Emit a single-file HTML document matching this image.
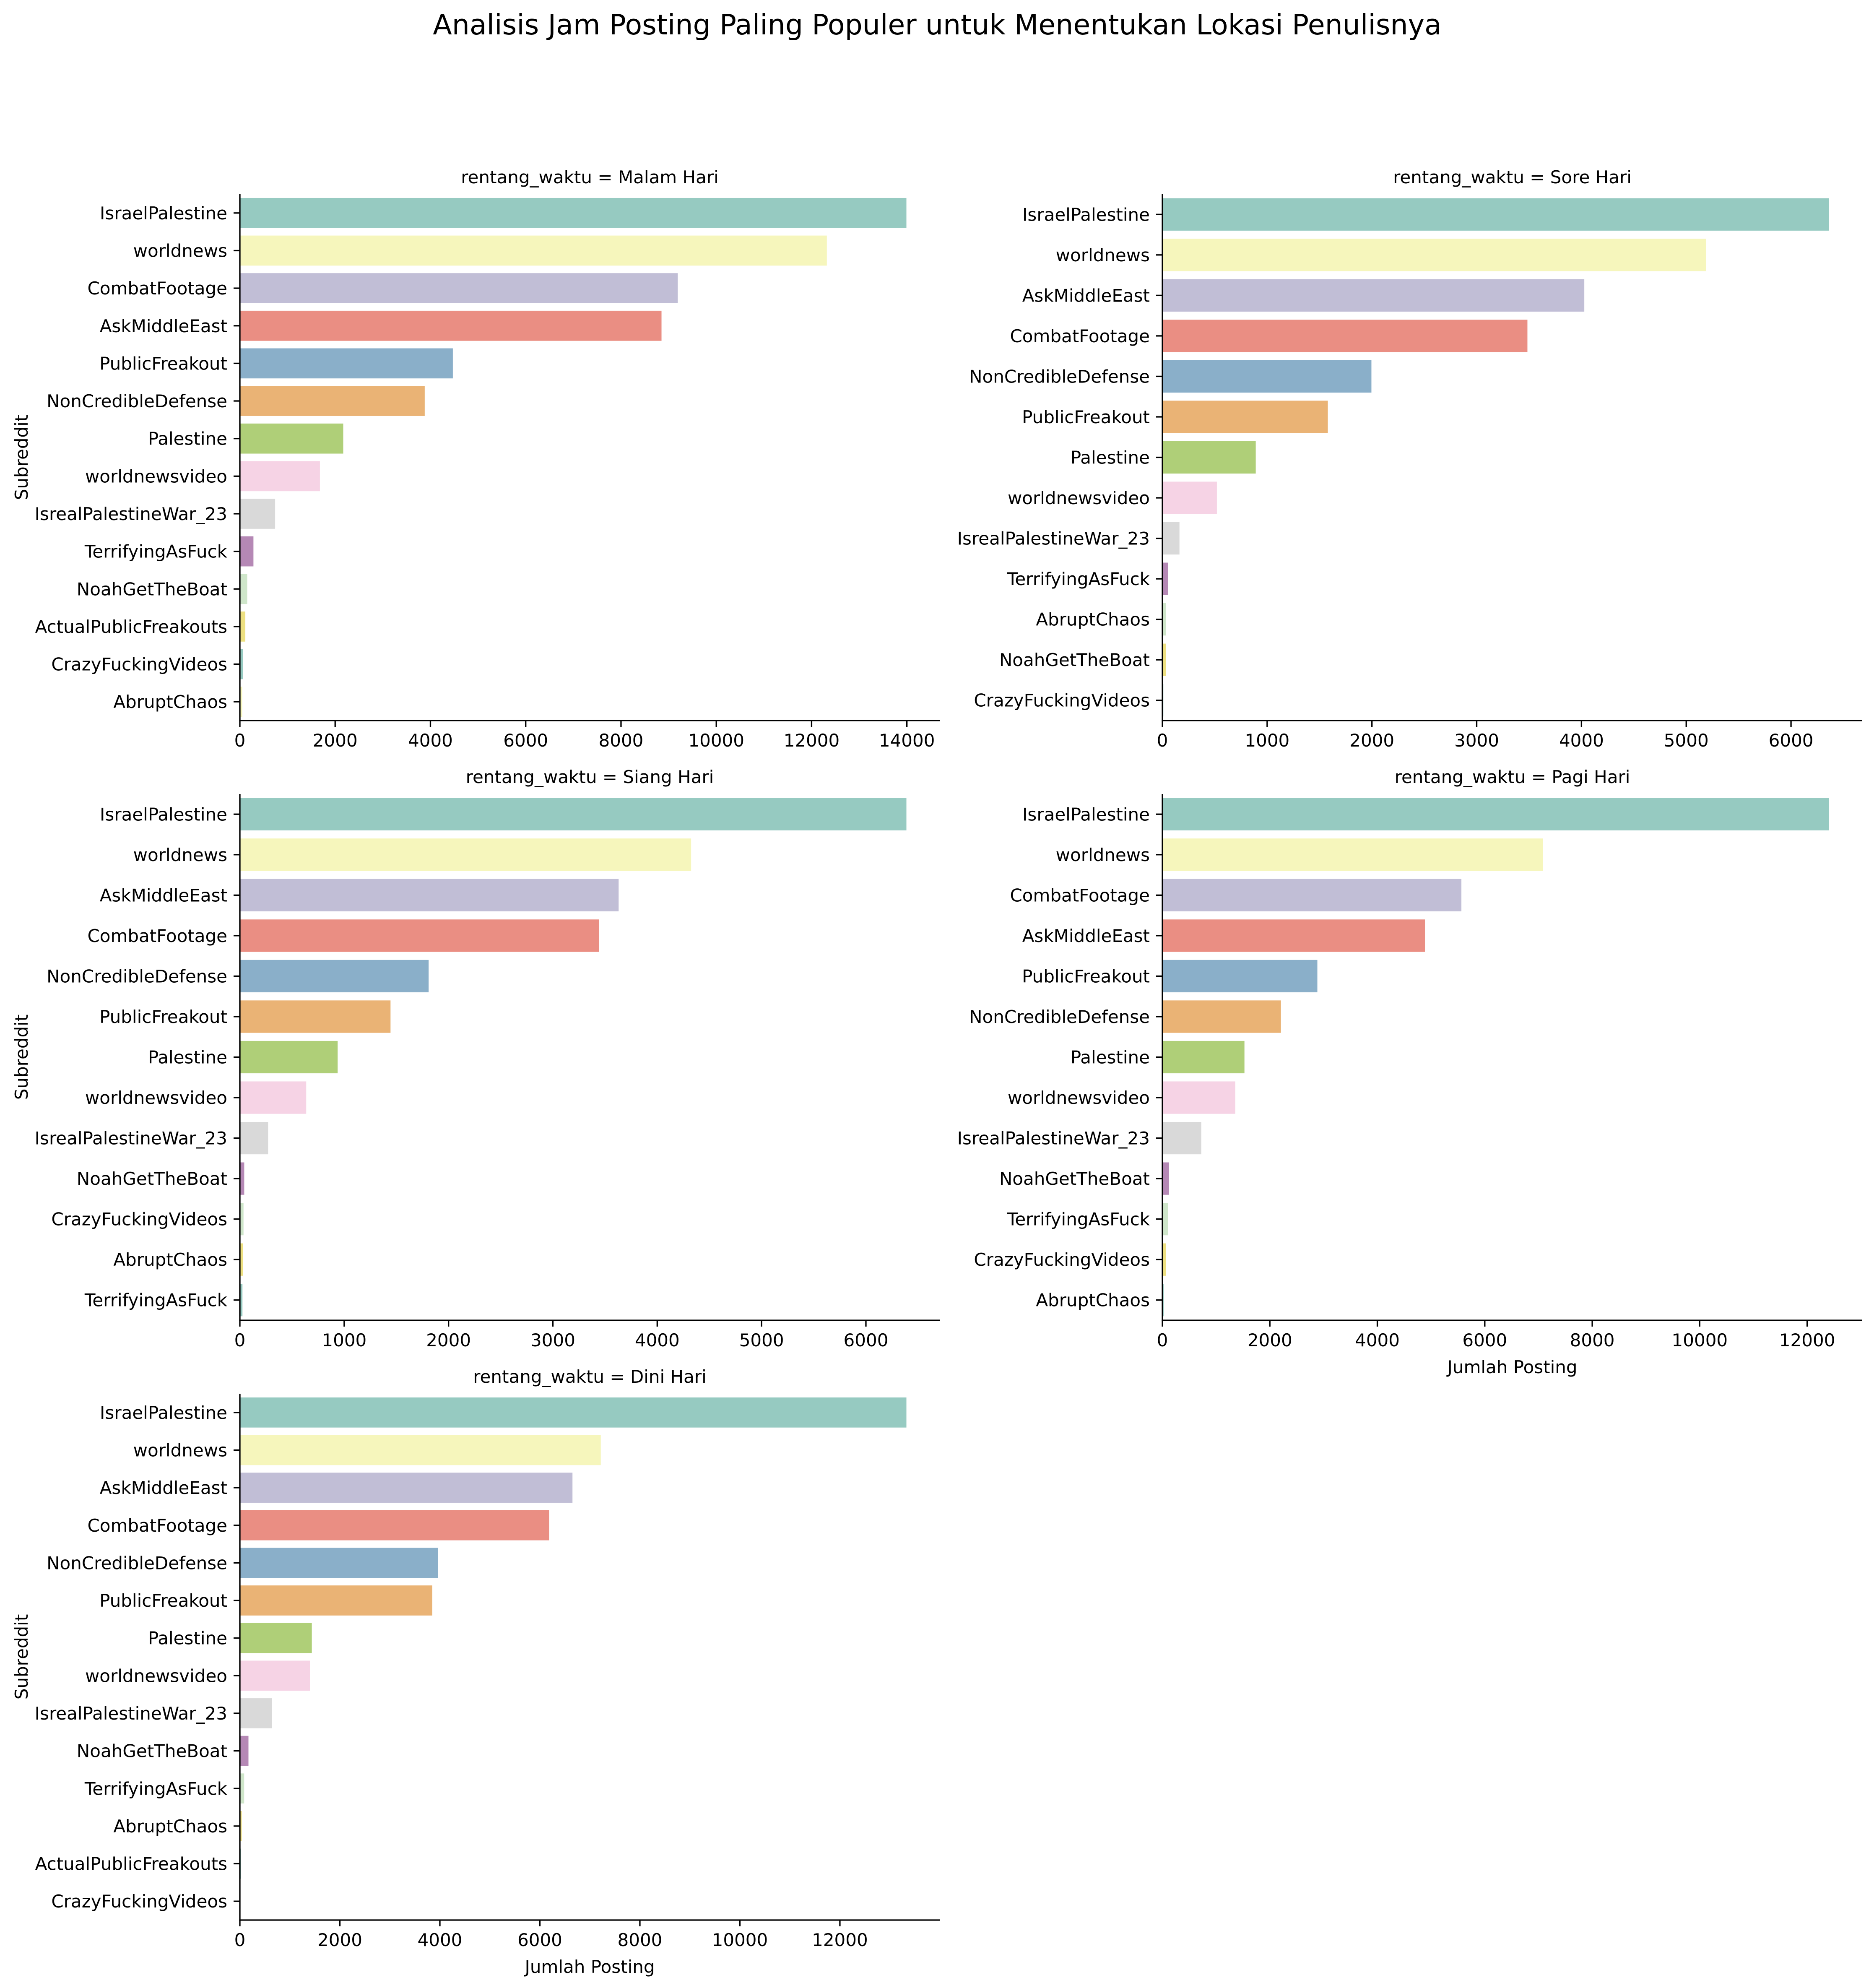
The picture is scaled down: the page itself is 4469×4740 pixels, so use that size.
<!DOCTYPE html>
<html><head><meta charset="utf-8"><style>html,body{margin:0;padding:0;background:#fff}svg{display:block}</style></head>
<body>
<svg id="fig" xmlns="http://www.w3.org/2000/svg" width="4469" height="4740" viewBox="0 0 4469 4740" font-family="'DejaVu Sans','Liberation Sans',sans-serif">
<rect width="4469" height="4740" fill="#fff"/>
<text x="2235" y="82" font-size="66.5" text-anchor="middle">Analisis Jam Posting Paling Populer untuk Menentukan Lokasi Penulisnya</text>
</svg>
<script>
const malamCats = ["IsraelPalestine","worldnews","CombatFootage","AskMiddleEast","PublicFreakout","NonCredibleDefense","Palestine","worldnewsvideo","IsrealPalestineWar_23","TerrifyingAsFuck","NoahGetTheBoat","ActualPublicFreakouts","CrazyFuckingVideos","AbruptChaos"];
const malamVals = [13990,12320,9190,8850,4470,3880,2170,1680,740,285,155,115,65,50];
const malamTicks = [0,2000,4000,6000,8000,10000,12000,14000];

const soreCats = ["IsraelPalestine","worldnews","AskMiddleEast","CombatFootage","NonCredibleDefense","PublicFreakout","Palestine","worldnewsvideo","IsrealPalestineWar_23","TerrifyingAsFuck","AbruptChaos","NoahGetTheBoat","CrazyFuckingVideos"];
const soreVals = [6362,5190,4027,3484,1995,1579,891,520,163,54,36,32,9];
const soreTicks = [0,1000,2000,3000,4000,5000,6000];

const siangCats = ["IsraelPalestine","worldnews","AskMiddleEast","CombatFootage","NonCredibleDefense","PublicFreakout","Palestine","worldnewsvideo","IsrealPalestineWar_23","NoahGetTheBoat","CrazyFuckingVideos","AbruptChaos","TerrifyingAsFuck"];
const siangVals = [6388,4325,3630,3441,1809,1444,937,636,271,42,35,30,25];
const siangTicks = [0,1000,2000,3000,4000,5000,6000];

const pagiCats = ["IsraelPalestine","worldnews","CombatFootage","AskMiddleEast","PublicFreakout","NonCredibleDefense","Palestine","worldnewsvideo","IsrealPalestineWar_23","NoahGetTheBoat","TerrifyingAsFuck","CrazyFuckingVideos","AbruptChaos"];
const pagiVals = [12405,7080,5565,4886,2884,2206,1527,1357,724,124,102,68,23];
const pagiTicks = [0,2000,4000,6000,8000,10000,12000];

const diniCats = ["IsraelPalestine","worldnews","AskMiddleEast","CombatFootage","NonCredibleDefense","PublicFreakout","Palestine","worldnewsvideo","IsrealPalestineWar_23","NoahGetTheBoat","TerrifyingAsFuck","AbruptChaos","ActualPublicFreakouts","CrazyFuckingVideos"];
const diniVals = [13330,7218,6652,6185,3959,3849,1439,1402,639,172,86,37,25,10];
const diniTicks = [0,2000,4000,6000,8000,10000,12000];

const panelTitles = ["Malam Hari","Sore Hari","Siang Hari","Pagi Hari","Dini Hari"];

const NS = "http://www.w3.org/2000/svg";
const svg = document.getElementById('fig');
const set3 = ["#8dd3c7","#ffffb3","#bebada","#fb8072","#80b1d3","#fdb462","#b3de69","#fccde5","#d9d9d9","#bc80bd","#ccebc5","#ffed6f"];
function desat(hex, f){
  let r=parseInt(hex.substr(1,2),16)/255,g=parseInt(hex.substr(3,2),16)/255,b=parseInt(hex.substr(5,2),16)/255;
  const mx=Math.max(r,g,b),mn=Math.min(r,g,b),l=(mx+mn)/2;
  if(mx===mn) return hex;
  const d=mx-mn; let s=l>0.5?d/(2-mx-mn):d/(mx+mn);
  const s2=s*f; const c=s2*(1-Math.abs(2*l-1)); const nmx=l+c/2, nmn=l-c/2;
  const m=v=>Math.round((nmn+(v-mn)/d*(nmx-nmn))*255);
  return "rgb("+m(r)+","+m(g)+","+m(b)+")";
}
function mk(tag, attrs){const e=document.createElementNS(NS,tag);for(const k in attrs)e.setAttribute(k,attrs[k]);svg.appendChild(e);return e;}

const FS = 42, W = 1669, H = 1255;
function panel(idx, cats, vals, ticks, left, top, showY, showX){
  const n = cats.length;
  const xmax = Math.max(...vals) * 1.05;
  const xs = v => left + v / xmax * W;
  const band = H / n;
  const yc = i => top + (i + 0.5) * band;
  const t = mk('text',{x:left+W/2,y:top-26,'font-size':FS,'text-anchor':'middle'});
  
  
  t.textContent = "rentang_waktu = " + panelTitles[idx];
  for(let i=0;i<n;i++){
    const r = mk('rect',{x:left,y:yc(i)-0.4*band,width:Math.max(0,xs(vals[i])-left),height:0.8*band,fill:desat(set3[i%12],0.75)});
    
    
    const tk = mk('line',{x1:left-15,x2:left,y1:yc(i),y2:yc(i),stroke:'#000','stroke-width':3.3});
    
    
    const lb = mk('text',{x:left-30,y:yc(i)+15,'font-size':FS,'text-anchor':'end'});
    
    
    lb.textContent = cats[i];
  }
  ticks.forEach(v=>{
    const tk = mk('line',{x1:xs(v),x2:xs(v),y1:top+H,y2:top+H+15,stroke:'#000','stroke-width':3.3});
    
    
    const lb = mk('text',{x:xs(v),y:top+H+62,'font-size':FS,'text-anchor':'middle'});
    
    
    lb.textContent = v;
  });
  const sl = mk('line',{x1:left,x2:left,y1:top,y2:top+H+1.6,stroke:'#000','stroke-width':3.3});
  
  
  const sb = mk('line',{x1:left-1.6,x2:left+W,y1:top+H,y2:top+H,stroke:'#000','stroke-width':3.3});
  
  
  if(showY){
    const yl = mk('text',{x:0,y:0,'font-size':FS,'text-anchor':'middle',transform:'translate(66,'+(top+H/2)+') rotate(-90)'});
    
    
    yl.textContent = "Subreddit";
  }
  if(showX){
    const xl = mk('text',{x:left+W/2,y:top+H+126,'font-size':FS,'text-anchor':'middle'});
    
    
    xl.textContent = "Jumlah Posting";
  }
}
panel(0, malamCats, malamVals, malamTicks, 572, 463, true, false);
panel(1, soreCats, soreVals, soreTicks, 2772, 463, false, false);
panel(2, siangCats, siangVals, siangTicks, 572, 1893, true, false);
panel(3, pagiCats, pagiVals, pagiTicks, 2772, 1893, false, true);
panel(4, diniCats, diniVals, diniTicks, 572, 3323, true, true);
</script>
</body></html>
